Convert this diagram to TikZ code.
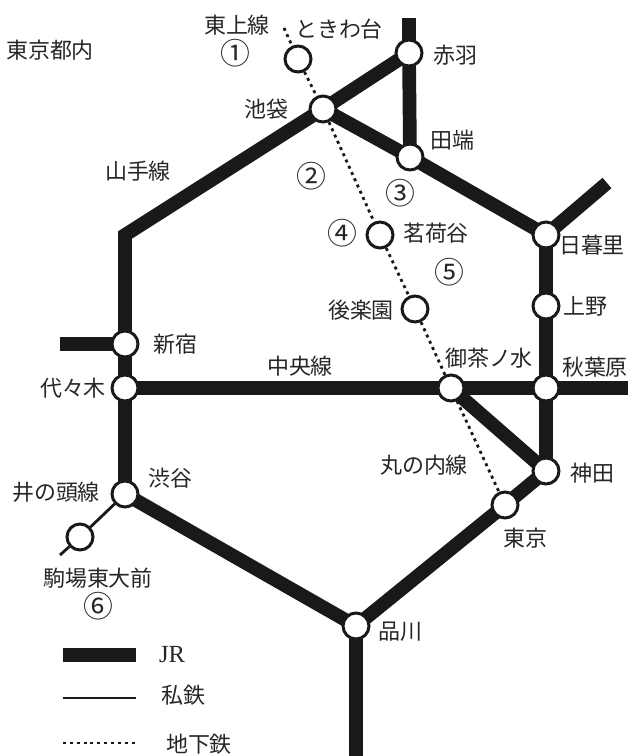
\documentclass[tikz,border=0pt]{standalone}
\usepackage{fontspec}
\setmainfont{Noto Sans CJK JP}
\newfontfamily\latinfont{Liberation Serif}
\usetikzlibrary{backgrounds}
\tikzset{sta/.style={circle,draw=black!90,fill=white,line width=1.7pt,minimum size=0.52cm,inner sep=0pt}}
\tikzset{txt/.style={font=\fontsize{12.5pt}{14pt}\selectfont,text=black!85,inner sep=0pt}}
\tikzset{num/.style={font=\fontsize{17pt}{18pt}\selectfont,text=black!85,inner sep=0pt}}
\tikzset{
jr/.style={line width=7.8pt,black!90},
shitetsu/.style={line width=1.6pt,black!90},
chika/.style={line width=1.6pt,black!90,dash pattern=on 1.7pt off 2.2pt}
}

\begin{document}
\begin{tikzpicture}[x=0.02cm,y=-0.02cm]
\useasboundingbox (0,0) rectangle (632,756);

% stations
\foreach \name/\x/\y in {akabane/409/53, ikebukuro/323/109, tabata/410/157, nippori/546/235,
  ueno/546/306, akihabara/546/388, ochanomizu/451/388, kanda/546/471, tokyo/505/505,
  shinagawa/356/626, shibuya/125/494, yoyogi/125/388, shinjuku/125/344, tokiwadai/298/59,
  myogadani/380/235, korakuen/415/309, komaba/80/537}
  {
 \node[sta] (\name) at (\x, \y) {};
 }

% free ends of the lines
\coordinate (akabaneN) at (409, 18);
\coordinate (nipporiNE) at (607, 183);
\coordinate (corner) at (125, 235);
\coordinate (shinjukuW) at (60, 344);
\coordinate (chuoE) at (628, 388);
\coordinate (shinagawaS) at (356, 756);
\coordinate (tojoN) at (284, 28);
\coordinate (komabaSW) at (60, 555);
\coordinate (legA1) at (63, 655);
\coordinate (legA2) at (136, 655);
\coordinate (legB1) at (63, 698);
\coordinate (legB2) at (136, 698);
\coordinate (legC1) at (63, 743);
\coordinate (legC2) at (136, 743);

\begin{scope}[on background layer]
 \draw[jr] (akabaneN) -- (akabane.center);
 \draw[jr] (akabane.center) -- (tabata.center);
 \draw[jr] (akabane.center) -- (ikebukuro.center);
 \draw[jr] (ikebukuro.center) -- (tabata.center);
 \draw[jr] (tabata.center) -- (nippori.center);
 \draw[jr] (nipporiNE) -- (nippori.center);
 \draw[jr] (nippori.center) -- (ueno.center);
 \draw[jr] (ueno.center) -- (akihabara.center);
 \draw[jr] (akihabara.center) -- (kanda.center);
 \draw[jr] (kanda.center) -- (tokyo.center);
 \draw[jr] (tokyo.center) -- (shinagawa.center);
 \draw[jr] (shinagawa.center) -- (shibuya.center);
 \draw[jr] (shinagawaS) -- (shinagawa.center);
 \draw[jr] (shibuya.center) -- (yoyogi.center);
 \draw[jr] (yoyogi.center) -- (shinjuku.center);
 \draw[jr,line join=miter] (shinjuku.center) -- (corner) -- (ikebukuro.center);
 \draw[jr] (shinjukuW) -- (shinjuku.center);
 \draw[jr] (yoyogi.center) -- (ochanomizu.center);
 \draw[jr] (ochanomizu.center) -- (akihabara.center);
 \draw[jr] (akihabara.center) -- (chuoE);
 \draw[jr] (ochanomizu.center) -- (kanda.center);
 \draw[shitetsu] (shibuya) -- (komaba);
 \draw[shitetsu] (komaba) -- (komabaSW);
 \draw[chika] (tojoN) -- (tokiwadai);
 \draw[chika] (tokiwadai) -- (ikebukuro);
 \draw[chika] (ikebukuro) -- (myogadani);
 \draw[chika] (myogadani) -- (korakuen);
 \draw[chika] (korakuen) -- (ochanomizu);
 \draw[chika] (ochanomizu) -- (tokyo);
\end{scope}

% legend
\draw[jr] (legA1) -- (legA2);
\draw[shitetsu] (legB1) -- (legB2);
\draw[chika] (legC1) -- (legC2);

% labels
\foreach \lab/\txt/\x/\y in {tnaitxt/東京都内/50/50, tojotxt/東上線/237/25,
  tokiwatxt/ときわ台/339/29, akabanetxt/赤羽/455/55, ikebukurotxt/池袋/266/109,
  tabatatxt/田端/452/140, yamanotetxt/山手線/138/171,
  myogatxt/茗荷谷/436/233, nipporitxt/日暮里/592/245,
  korakutxt/後楽園/361/310, uenotxt/上野/585/306, shinjukutxt/新宿/175/344,
  ochatxt/御茶ノ水/489/358, chuotxt/中央線/300/366, akibatxt/秋葉原/595/367,
  yoyogitxt/代々木/73/388, marutxt/丸の内線/424/465, kandatxt/神田/592/473,
  shibuyatxt/渋谷/170/478, inotxt/井の頭線/56/492, tokyotxt/東京/525/538,
  komabatxt/駒場東大前/98/578, shinatxt/品川/400/632,
  jrtxt/{\latinfont\fontsize{14pt}{15pt}\selectfont JR}/172/655, shitetsutxt/私鉄/183/695, chikatxt/地下鉄/199/744}
  {
 \node[txt] (\lab) at (\x, \y) {\txt};
 }

\foreach \lab/\txt/\x/\y in {n1/①/235/53, n2/②/311/176, n3/③/400/193,
  n4/④/342/233, n5/⑤/449/272, n6/⑥/98/606}
  {
 \node[num] (\lab) at (\x, \y) {\txt};
 }

\end{tikzpicture}
\end{document}
